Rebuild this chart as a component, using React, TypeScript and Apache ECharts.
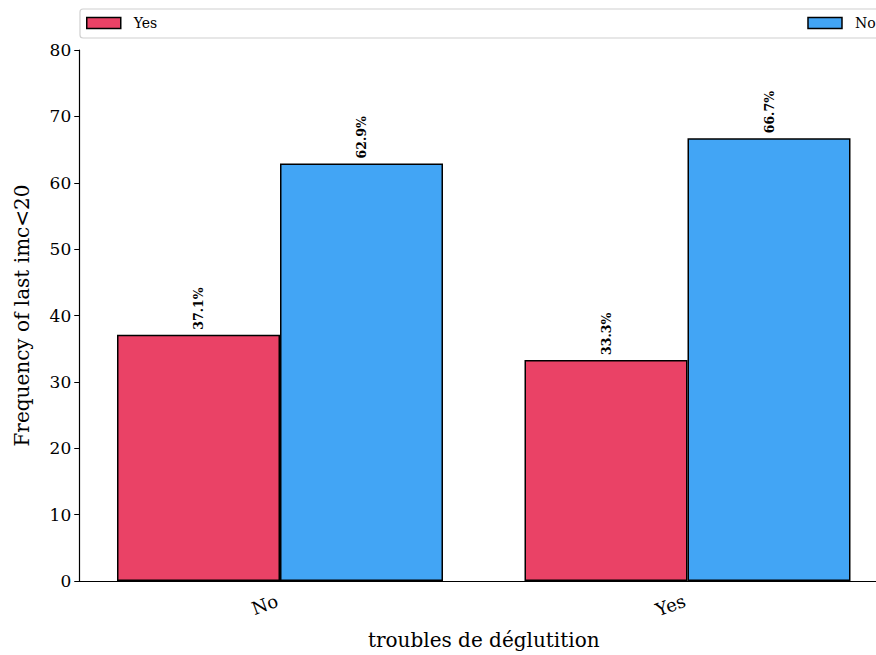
import React, { useEffect, useRef } from "react";
import * as echarts from "echarts";

const categories = ["No", "Yes"];
const seriesNames = ["Yes", "No"];
const yesValues = [37.1, 33.3];
const noValues = [62.9, 66.7];
const yTicks = { min: 0, max: 80, interval: 10 };
const colors = ["#EA4266", "#42A5F5"];

const FONT = "DejaVu Serif";

export default function App() {
  const ref = useRef<HTMLDivElement>(null);
  useEffect(() => {
    if (!ref.current) return;
    const chart = echarts.init(ref.current, undefined, { renderer: "svg" });
    const label = {
      show: true,
      position: "top" as const,
      rotate: 90,
      distance: 5,
      align: "left" as const,
      verticalAlign: "middle" as const,
      fontFamily: FONT,
      fontWeight: "bold" as const,
      fontSize: 12.5,
      color: "#000",
      formatter: (p: any) => `${p.value.toFixed(1)}%`,
    };
    chart.setOption({
      animation: false,
      textStyle: { fontFamily: FONT },
      grid: { left: 76.25, top: 50, width: 815, height: 534, containLabel: false },
      graphic: [
        {
          type: "rect",
          shape: { x: 80, y: 9, width: 830, height: 29, r: 3 },
          style: { fill: "#fff", stroke: "#d0d0d0", lineWidth: 1.2 },
          z: -1,
        },
      ],
      legend: {
        left: 86,
        top: 16,
        padding: 0,
        itemWidth: 34,
        itemHeight: 11,
        itemGap: 650,
        icon: "rect",
        itemStyle: { borderColor: "#000", borderWidth: 1.5 },
        textStyle: { fontFamily: FONT, fontSize: 14, color: "#000", padding: [0, 0, 0, 8] },
        data: seriesNames,
      },
      xAxis: {
        type: "category",
        data: categories,
        name: "troubles de déglutition",
        nameLocation: "middle",
        nameGap: 49,
        nameTextStyle: { fontFamily: FONT, fontSize: 20, color: "#000" },
        axisLine: { lineStyle: { color: "#000", width: 1.2 } },
        axisTick: { alignWithLabel: true, length: 5, lineStyle: { color: "#000" } },
        axisLabel: { rotate: 20, fontFamily: FONT, fontSize: 18, color: "#000", margin: 18, padding: [0, 3, 0, 0] },
      },
      yAxis: {
        type: "value",
        min: yTicks.min,
        max: yTicks.max,
        interval: yTicks.interval,
        offset: -3,
        name: "Frequency of last imc<20",
        nameLocation: "middle",
        nameGap: 47,
        nameTextStyle: { fontFamily: FONT, fontSize: 20, color: "#000" },
        axisLine: { show: true, lineStyle: { color: "#000", width: 1.2 } },
        axisTick: { show: true, length: 5, lineStyle: { color: "#000" } },
        axisLabel: { fontFamily: FONT, fontSize: 17, color: "#000", margin: 8 },
        splitLine: { show: false },
      },
      series: [
        {
          name: seriesNames[0],
          type: "bar",
          data: yesValues,
          barWidth: 163,
          barGap: "0%",
          itemStyle: { color: colors[0], borderColor: "#000", borderWidth: 1.5 },
          label,
        },
        {
          name: seriesNames[1],
          type: "bar",
          data: noValues,
          barWidth: 163,
          barGap: "0%",
          itemStyle: { color: colors[1], borderColor: "#000", borderWidth: 1.5 },
          label,
        },
      ],
    });
    return () => chart.dispose();
  }, []);
  return (
    <div style={{ position: "absolute", left: 0, top: 0, width: 876, height: 655, overflow: "hidden" }}>
      <div ref={ref} style={{ width: 910, height: 655 }} />
    </div>
  );
}
